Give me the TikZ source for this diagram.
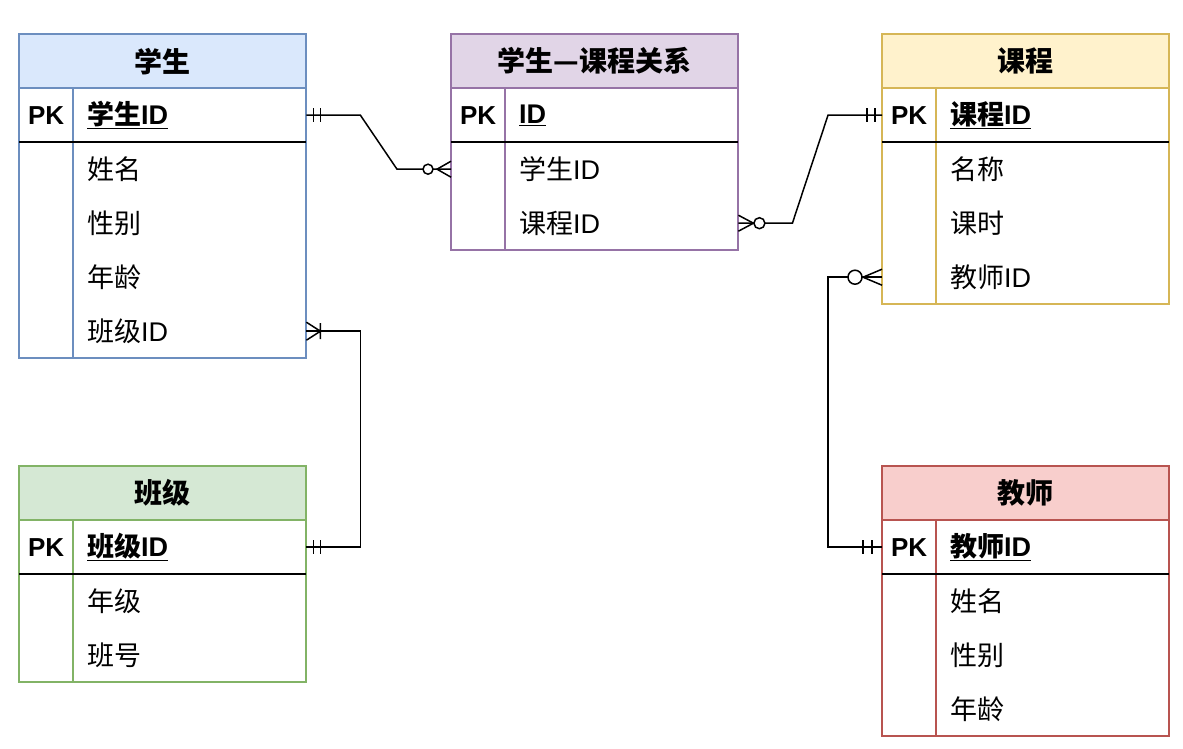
\documentclass[tikz,border=0pt]{standalone}
\usepackage{fontspec}
\setmainfont{Noto Sans CJK SC}
\newfontfamily\lat{Liberation Sans}
\usetikzlibrary{calc}
\definecolor{bluefill}{HTML}{DAE8FC}\definecolor{blueline}{HTML}{6C8EBF}
\definecolor{greenfill}{HTML}{D5E8D4}\definecolor{greenline}{HTML}{82B366}
\definecolor{purplefill}{HTML}{E1D5E7}\definecolor{purpleline}{HTML}{9673A6}
\definecolor{yellowfill}{HTML}{FFF2CC}\definecolor{yellowline}{HTML}{D6B656}
\definecolor{redfill}{HTML}{F8CECC}\definecolor{redline}{HTML}{B85450}
\tikzset{
  hdr/.style={anchor=north west, minimum width=287, minimum height=54, inner sep=0, font=\fontsize{28}{32}\selectfont\bfseries},
  keycell/.style={anchor=north west, minimum width=54, minimum height=54, inner sep=0, font=\fontsize{26}{32}\selectfont\bfseries\lat},
  fld/.style={anchor=north west, minimum width=233, minimum height=54, inner xsep=14, inner ysep=0, text width=205, align=left, font=\fontsize{27}{32}\selectfont},
  border/.style={line width=1.2pt},
  conn/.style={line width=1.5pt, black},
}
% #1 name, #2 x, #3 y, #4 title, #5 pk field, #6 colour, #7 fields, #8 count
\newcommand{\ertab}[8]{%
  \draw[border, fill=#6fill, draw=#6line] (#2,#3) rectangle (#2+287,#3+54);
  \node[hdr] (#1h) at (#2,#3) {#4};
  \node[keycell] (#1k0) at (#2,#3+54) {PK};
  \node[fld, font=\fontsize{27}{32}\selectfont\bfseries] (#1r0) at (#2+54,#3+54) {\underline{#5}};
  \foreach \f [count=\i] in {#7} {
    \node[keycell] (#1k\i) at (#2,#3+54+54*\i) {};
    \node[fld] (#1r\i) at (#2+54,#3+54+54*\i) {\f};
  }
  \draw[border, draw=#6line] (#2,#3) rectangle (#2+287,#3+108+54*#8);
  \draw[border, draw=#6line] (#2+54,#3+54) -- (#2+54,#3+108+54*#8);
  \draw[border, black] (#2,#3+108) -- (#2+287,#3+108);
}
% mandatory one: point, dir, first bar offset, second bar offset
\newcommand{\mOne}[4]{\begin{scope}[shift={#1},xscale=#2]
  \draw[conn] (#3,-7) -- (#3,7) (#4,-7) -- (#4,7);\end{scope}}
% zero to many: point, dir, apex, circle centre, radius
\newcommand{\mZM}[5]{\begin{scope}[shift={#1},xscale=#2]
  \draw[conn] (0,-8) -- (#3,0) -- (0,8);
  \draw[conn, fill=white] (#4,0) circle[radius=#5];\end{scope}}
% one to many: point, dir
\newcommand{\mOM}[2]{\begin{scope}[shift={#1},xscale=#2]
  \draw[conn] (0,-9) -- (14,0) -- (0,9) (14,-8) -- (14,8);\end{scope}}
\begin{document}
\begin{tikzpicture}[x=1pt,y=-1pt]
\useasboundingbox (0,0) rectangle (1183,748);
\ertab{s}{19}{34}{学生}{学生{\lat ID}}{blue}{姓名,性别,年龄,班级{\lat ID}}{4}
\ertab{b}{19}{466}{班级}{班级{\lat ID}}{green}{年级,班号}{2}
\ertab{r}{451}{34}{学生—课程关系}{{\lat ID}}{purple}{学生{\lat ID},课程{\lat ID}}{2}
\ertab{c}{882}{34}{课程}{课程{\lat ID}}{yellow}{名称,课时,教师{\lat ID}}{3}
\ertab{t}{882}{466}{教师}{教师{\lat ID}}{red}{姓名,性别,年龄}{3}
% connectors
\draw[conn] (sr0.east) -- ++(54,0) -- ($(rk1.west)+(-54,0)$) -- (rk1.west);
\draw[conn] (rr2.east) -- ++(54,0) -- ($(ck0.west)+(-54,0)$) -- (ck0.west);
\draw[conn] (ck3.west) -- ++(-54,0) |- (tk0.west);
\draw[conn] (sr4.east) -- ++(54,0) |- (br0.east);
% markers
\mOne{(sr0.east)}{1}{7}{14}
\mZM{(rk1.west)}{-1}{14}{23}{5}
\mZM{(rr2.east)}{1}{15}{21}{5.5}
\mOne{(ck0.west)}{-1}{7}{15}
\mZM{(ck3.west)}{-1}{19}{27}{7}
\mOne{(tk0.west)}{-1}{10}{19}
\mOM{(sr4.east)}{1}
\mOne{(br0.east)}{1}{7}{14}
\end{tikzpicture}
\end{document}
